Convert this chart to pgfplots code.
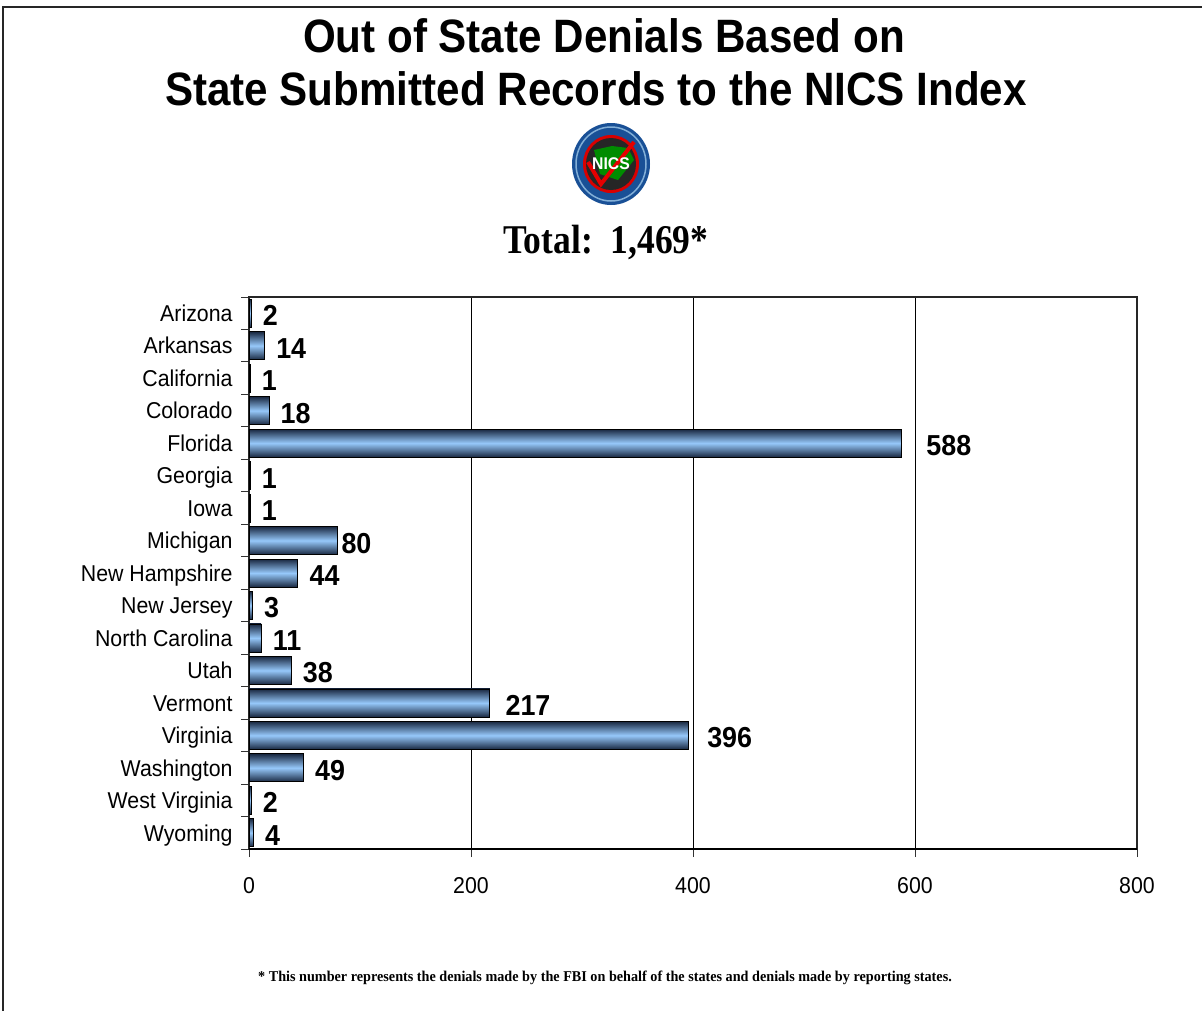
\documentclass[border=0pt]{standalone}
\usepackage{fontspec}
\setmainfont{Liberation Sans}[FakeStretch=0.93]
\newfontfamily\titlefont{Liberation Sans}[FakeStretch=0.9]
\newfontfamily\serifb{Liberation Serif}[FakeStretch=0.87]
\newfontfamily\seriff{Liberation Serif}[FakeStretch=0.95]
\usepackage{pgfplots}
\pgfplotsset{compat=1.18}
\definecolor{bardark}{RGB}{25,40,65}
\definecolor{barlight}{RGB}{150,200,250}
\pgfplotsset{mybar/.style={draw=black, line width=0.8bp, top color=bardark, bottom color=bardark, middle color=barlight, bar shift=0pt}}
\begin{document}
\begin{tikzpicture}[x=1bp,y=1bp]
\path[use as bounding box] (0,0) rectangle (1202,-1011);
\draw[black!85, line width=2bp] (3,-1011) -- (3,-7) -- (1202,-7);
% titles
\node[font=\titlefont\bfseries\fontsize{47}{53}\selectfont, anchor=base] at (604,-52) {Out of State Denials Based on};
\node[font=\titlefont\bfseries\fontsize{47}{53}\selectfont, anchor=base] at (596,-105) {State Submitted Records to the NICS Index};
% logo (approximation)
\fill[color={rgb,255:red,25;green,80;blue,150}] (611,-164) ellipse (39 and 41);
\draw[color={rgb,255:red,130;green,175;blue,215}, line width=1.5bp] (611,-164) ellipse (35 and 37);
\fill[red!85!black] (611,-164) ellipse (28 and 29);
\fill[black!85] (611,-164) ellipse (25 and 26);
\fill[green!55!black] (594,-150) -- (612,-146) -- (628,-148) -- (634,-160) -- (618,-180) -- (600,-174) -- cycle;
\draw[red!90!black, line width=4bp] (588,-162) -- (601,-184) -- (634,-142);
\node[white, font=\bfseries\fontsize{17}{17}\selectfont] at (611,-164) {NICS};
\node[font=\serifb\bfseries\fontsize{41}{45}\selectfont, anchor=base] at (606,-253) {Total:~~1,469*};
\begin{axis}[
  at={(249bp,-849bp)}, anchor=south west,
  scale only axis, width=888bp, height=552bp,
  xmin=0, xmax=800, ymin=-0.5, ymax=16.5,
  y dir=reverse,
  clip=false,
  xtick={0,200,400,600,800},
  minor xtick={0,200,400,600,800},
  ytick={0,...,16},
  minor ytick={-0.5,0.5,1.5,2.5,3.5,4.5,5.5,6.5,7.5,8.5,9.5,10.5,11.5,12.5,13.5,14.5,15.5,16.5},
  xtick pos=bottom, ytick pos=left,
  yticklabels={Arizona,Arkansas,California,Colorado,Florida,Georgia,Iowa,Michigan,New Hampshire,New Jersey,North Carolina,Utah,Vermont,Virginia,Washington,West Virginia,Wyoming},
  major tick length=0pt, minor tick length=8bp, tick align=outside,
  every tick/.style={black!80, line width=1bp},
  xmajorgrids, grid style={black, line width=0.9bp},
  axis line style={black!85, line width=1.3bp},
  /pgf/number format/assume math mode=true,
  ticklabel style={font=\fontsize{23}{25}\selectfont},
  xticklabel style={yshift=-25bp},
  yticklabel style={xshift=-13bp, text height=16.5bp, text depth=0pt},
  xbar, bar width=28bp,
  nodes near coords, point meta=x,
  nodes near coords style={font=\bfseries\fontsize{29}{30}\selectfont, anchor=west, xshift=8bp, yshift=-2bp, text height=21bp, text depth=0pt, black},
]
\addplot[mybar] coordinates {(2,0)};
\addplot[mybar] coordinates {(14,1)};
\addplot[mybar] coordinates {(1,2)};
\addplot[mybar] coordinates {(18,3)};
\addplot[mybar, every node near coord/.append style={xshift=13bp}] coordinates {(588,4)};
\addplot[mybar] coordinates {(1,5)};
\addplot[mybar] coordinates {(1,6)};
\addplot[mybar, every node near coord/.append style={xshift=-8bp}] coordinates {(80,7)};
\addplot[mybar] coordinates {(44,8)};
\addplot[mybar] coordinates {(3,9)};
\addplot[mybar] coordinates {(11,10)};
\addplot[mybar] coordinates {(38,11)};
\addplot[mybar, every node near coord/.append style={xshift=4bp}] coordinates {(217,12)};
\addplot[mybar, every node near coord/.append style={xshift=7bp}] coordinates {(396,13)};
\addplot[mybar] coordinates {(49,14)};
\addplot[mybar] coordinates {(2,15)};
\addplot[mybar] coordinates {(4,16)};
\draw[black, line width=2.5bp] (axis cs:0,16.5) -- (axis cs:800,16.5);
\end{axis}
\node[font=\seriff\bfseries\fontsize{15}{17}\selectfont, anchor=base] at (605,-981) {* This number represents the denials made by the FBI on behalf of the states and denials made by reporting states.};
\end{tikzpicture}
\end{document}
